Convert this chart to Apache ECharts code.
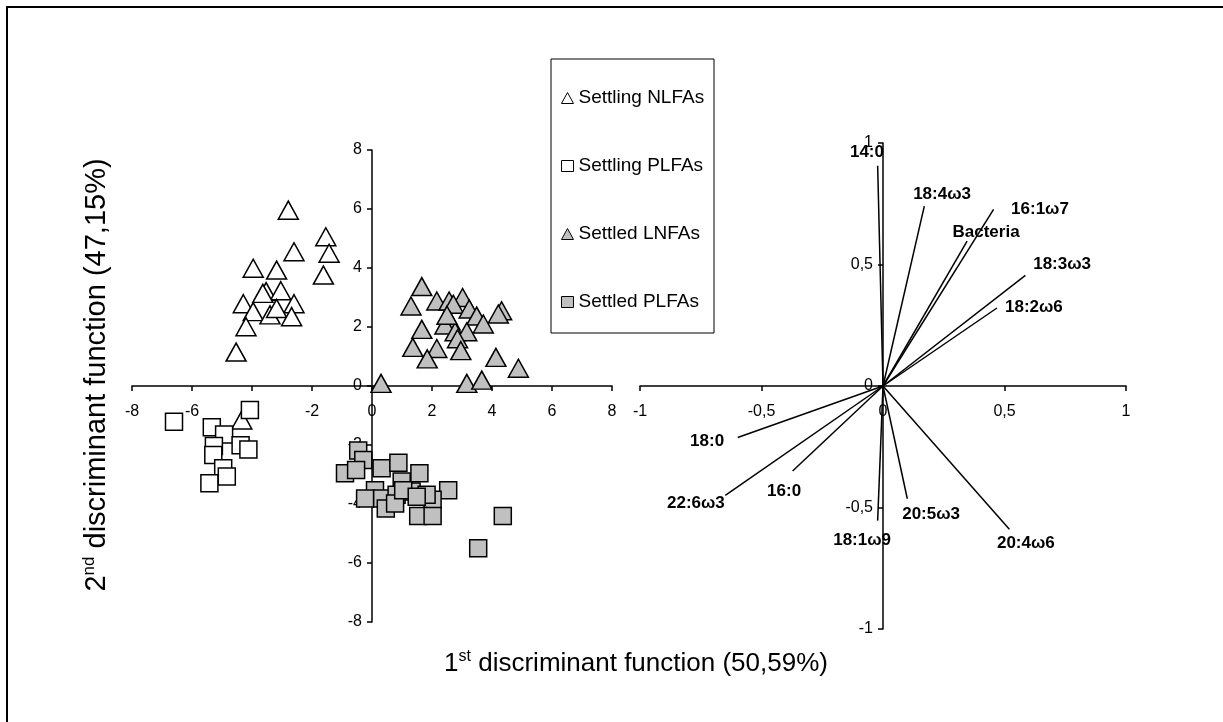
<!DOCTYPE html>
<html>
<head>
<meta charset="utf-8">
<script src="https://cdn.jsdelivr.net/npm/echarts@6/dist/echarts.min.js"></script>
<style>
  html, body { margin: 0; padding: 0; background: #fff; }
  #chart { width: 1223px; height: 722px; }
</style>
</head>
<body>
<div id="chart"></div>
<script>
// ---- data ----
const seriesNames = ['Settling NLFAs', 'Settling PLFAs', 'Settled LNFAs', 'Settled PLFAs'];

const settlingNLFAs = [[-2.79,5.96],[-1.54,5.06],[-2.6,4.55],[-1.43,4.5],[-3.96,3.99],[-3.18,3.93],
  [-1.62,3.76],[-3.53,3.2],[-3.04,3.23],[-3.64,3.14],[-4.29,2.79],[-2.6,2.79],[-3.96,2.52],
  [-3.4,2.41],[-3.18,2.63],[-2.68,2.35],[-4.2,2.01],[-4.53,1.15],[-4.34,-1.15]];

const settlingPLFAs = [[-6.6,-1.21],[-5.34,-1.4],[-4.93,-1.64],[-4.07,-0.81],[-4.38,-2.01],
  [-4.12,-2.15],[-5.27,-2.03],[-5.29,-2.34],[-4.96,-2.79],[-4.84,-3.07],[-5.42,-3.3]];

const settledLNFAs = [[1.66,3.37],[1.3,2.71],[2.16,2.88],[2.57,2.88],[3.02,3.0],[2.71,2.77],
  [3.24,2.61],[3.49,2.37],[4.32,2.55],[4.21,2.44],[3.71,2.1],[2.6,2.21],[2.43,2.07],[1.66,1.92],
  [2.77,1.84],[3.16,1.84],[2.85,1.6],[2.5,2.4],[1.36,1.31],[2.16,1.27],[2.96,1.2],[1.84,0.92],
  [4.13,0.97],[4.88,0.6],[0.3,0.09],[3.16,0.09],[3.66,0.2]];

const settledPLFAs = [[-0.46,-2.19],[-0.29,-2.51],[-0.9,-2.96],[-0.53,-2.85],[0.32,-2.79],
  [0.88,-2.6],[1.58,-2.96],[0.99,-3.24],[0.1,-3.53],[-0.23,-3.81],[0.34,-3.81],[0.82,-3.69],
  [1.32,-3.58],[2.54,-3.53],[2.02,-3.86],[1.54,-4.41],[2.02,-4.41],[0.46,-4.15],[0.77,-3.98],
  [4.36,-4.41],[3.54,-5.5],[1.82,-3.69],[1.04,-3.53],[1.49,-3.75]];

// loading vectors (biplot)
const vectorNames = ['14:0','18:4ω3','16:1ω7','Bacteria','18:3ω3','18:2ω6',
  '18:0','22:6ω3','16:0','18:1ω9','20:5ω3','20:4ω6'];
const vectorEnds = [[-0.022,0.906],[0.17,0.74],[0.455,0.727],[0.346,0.596],[0.586,0.455],[0.469,0.321],
  [-0.598,-0.212],[-0.649,-0.45],[-0.372,-0.35],[-0.022,-0.554],[0.10,-0.464],[0.52,-0.59]];
const vectorLabelAt = [[-0.066,0.963],[0.243,0.789],[0.646,0.727],[0.424,0.632],[0.737,0.5],[0.621,0.322],
  [-0.724,-0.227],[-0.770,-0.483],[-0.407,-0.434],[-0.086,-0.636],[0.198,-0.529],[0.588,-0.649]];

// axis ranges / ticks
const scoreRange = [-8, 8], scoreStep = 2;
const loadRange = [-1, 1], loadStep = 0.5;

// ---- chart ----
const FONT = 'Arial, "Liberation Sans", Helvetica, sans-serif';
const chart = echarts.init(document.getElementById('chart'), null, { renderer: 'canvas' });

// layout of the two panels
const G = [
  { left: 132, top: 150, width: 480, height: 472 },
  { left: 640, top: 143, width: 486, height: 486 }
];
// place each axis line through the other axis' zero
function zeroFrac(range) { return (0 - range[0]) / (range[1] - range[0]); }

function axis(dim, gridIndex, range, step, fmt) {
  const g = G[gridIndex];
  const f = zeroFrac(range);
  const offset = dim === 'x' ? -(g.height * f) : -(g.width * f);
  return {
    type: 'value', gridIndex, min: range[0], max: range[1], interval: step,
    position: dim === 'x' ? 'bottom' : 'left', offset,
    axisLine: { onZero: false, lineStyle: { color: '#000', width: 1.5 } },
    axisTick: { show: true, length: 5, lineStyle: { color: '#000', width: 1.5 } },
    axisLabel: { color: '#000', fontSize: 16, fontFamily: FONT, margin: dim === 'x' ? 18 : 10, formatter: fmt },
    splitLine: { show: false }
  };
}
const commaFmt = v => String(v).replace('.', ',');

const markerStyle = (fill) => ({ color: fill, borderColor: '#000', borderWidth: 1.5, opacity: 1 });

const scatterSeries = [
  { name: seriesNames[0], data: settlingNLFAs, symbol: 'triangle', symbolSize: [20, 18], itemStyle: markerStyle('#ffffff') },
  { name: seriesNames[1], data: settlingPLFAs, symbol: 'rect', symbolSize: 17, itemStyle: markerStyle('#ffffff') },
  { name: seriesNames[2], data: settledLNFAs, symbol: 'triangle', symbolSize: [20, 18], itemStyle: markerStyle('#c0c0c0') },
  { name: seriesNames[3], data: settledPLFAs, symbol: 'rect', symbolSize: 17, itemStyle: markerStyle('#c0c0c0') }
].map(s => Object.assign({ type: 'scatter', xAxisIndex: 0, yAxisIndex: 0, emphasis: { disabled: true } }, s));

const vectorSeries = vectorNames.map((n, i) => ({
  type: 'line', name: 'v_' + n, xAxisIndex: 1, yAxisIndex: 1,
  data: [[0, 0], vectorEnds[i]], symbol: 'none', silent: true,
  lineStyle: { color: '#000', width: 1.5 }, z: 3
}));

const labelSeries = {
  type: 'scatter', name: 'labels', xAxisIndex: 1, yAxisIndex: 1, symbol: 'circle', symbolSize: 0, silent: true,
  itemStyle: { color: '#000', opacity: 1 },
  emphasis: { disabled: true },
  data: vectorNames.map((n, i) => ({ name: n, value: vectorLabelAt[i] })),
  label: { show: true, position: 'inside', formatter: p => p.name, color: '#000000', opacity: 1,
           textBorderWidth: 0, textBorderColor: 'transparent',
           fontSize: 17, fontWeight: 900, fontFamily: FONT },
  z: 4
};

const option = {
  backgroundColor: '#fff',
  animation: false,
  grid: G,
  xAxis: [axis('x', 0, scoreRange, scoreStep), axis('x', 1, loadRange, loadStep, commaFmt)],
  yAxis: [axis('y', 0, scoreRange, scoreStep), axis('y', 1, loadRange, loadStep, commaFmt)],
  legend: {
    data: seriesNames, orient: 'vertical', left: 556, top: 83,
    itemWidth: 12, itemHeight: 11, itemGap: 48, selectedMode: false,
    textStyle: { color: '#000', fontSize: 19, fontFamily: FONT, lineHeight: 20 },
    itemStyle: { borderWidth: 1 }
  },
  graphic: [
    { type: 'rect', shape: { x: 7, y: 7, width: 1300, height: 800 }, style: { fill: 'none', stroke: '#000', lineWidth: 2 }, silent: true, z: -1 },
    { type: 'rect', shape: { x: 551, y: 59, width: 163, height: 274 }, style: { fill: '#fff', stroke: '#000', lineWidth: 1 }, silent: true, z: -1 },
    { type: 'text', x: 636, y: 664, silent: true,
      style: { text: '1{sup|st} discriminant function (50,59%)', fill: '#000', font: '26px ' + FONT,
               align: 'center', verticalAlign: 'middle',
               rich: { sup: { fontSize: 16, fontFamily: FONT, verticalAlign: 'top', lineHeight: 30 } } } },
    { type: 'text', x: 97, y: 375, rotation: Math.PI / 2, silent: true,
      style: { text: '2{sup|nd} discriminant function (47,15%)', fill: '#000', font: '29px ' + FONT,
               align: 'center', verticalAlign: 'middle',
               rich: { sup: { fontSize: 17, fontFamily: FONT, verticalAlign: 'top', lineHeight: 32 } } } }
  ],
  series: scatterSeries.concat(vectorSeries, [labelSeries])
};
chart.setOption(option);
</script>
</body>
</html>
